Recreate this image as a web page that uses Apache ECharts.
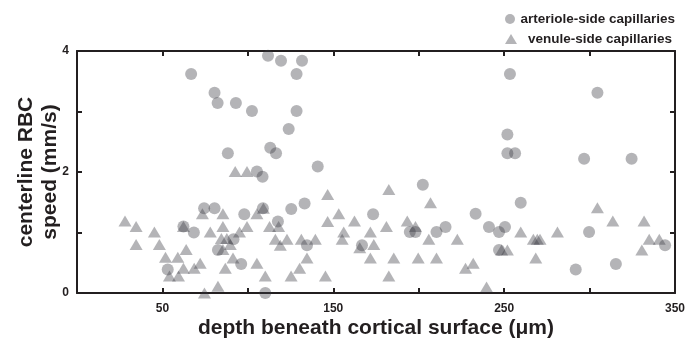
<!DOCTYPE html>
<html>
<head>
<meta charset="utf-8">
<script src="https://cdn.jsdelivr.net/npm/echarts@6/dist/echarts.min.js"></script>
<style>
  html, body { margin: 0; padding: 0; background: #fff; }
  #chart { width: 695px; height: 340px; }
</style>
</head>
<body>
<div id="chart"></div>
<script>
// depth (um), centerline RBC speed (mm/s)
const arteriolePoints = [
  [66.8, 3.62], [80.5, 3.31], [82.3, 3.14], [88.3, 2.31], [74.4, 1.40], [80.5, 1.40],
  [62.3, 1.10], [68.4, 1.00], [82.5, 0.71], [53.1, 0.39],
  [111.8, 3.92], [119.4, 3.84], [131.7, 3.84], [128.5, 3.62], [93.0, 3.14], [102.4, 3.01],
  [128.5, 3.01], [123.9, 2.71], [113.1, 2.40], [116.5, 2.31], [140.9, 2.09], [105.3, 2.01],
  [108.6, 1.92], [97.9, 1.30], [108.8, 1.40], [125.4, 1.39], [133.2, 1.48], [117.6, 1.18],
  [91.6, 0.89], [96.1, 0.48], [134.6, 0.79], [173.3, 1.30], [166.8, 0.79], [110.2, 0.0],
  [253.4, 3.62], [251.9, 2.62], [251.9, 2.31], [256.4, 2.31], [202.4, 1.79], [259.7, 1.49],
  [233.3, 1.31], [194.8, 1.01], [198.1, 1.01], [210.4, 1.01], [215.7, 1.09], [241.1, 1.09],
  [247.0, 1.01], [250.5, 1.09], [247.0, 0.71],
  [304.6, 3.31], [296.8, 2.22], [324.6, 2.22], [299.7, 1.01], [291.9, 0.39], [315.4, 0.48],
  [344.2, 0.79]
]

const venulePoints = [
  [28.1, 1.19], [34.6, 1.10], [34.6, 0.80], [45.3, 1.01], [48.2, 0.80], [51.8, 0.59],
  [59.0, 0.59], [63.9, 0.72], [62.3, 1.10], [54.1, 0.28], [59.4, 0.28], [62.3, 0.41],
  [68.6, 0.41], [72.1, 0.49], [74.6, 0.0], [82.5, 0.11], [73.4, 1.31], [78.0, 1.01],
  [85.4, 1.31], [85.4, 1.10], [84.5, 0.90], [86.8, 0.41], [85.4, 0.72],
  [92.6, 2.01], [99.5, 2.01], [146.7, 1.63], [109.1, 1.40], [105.3, 1.31], [153.2, 1.31],
  [146.7, 1.18], [162.4, 1.19], [99.5, 1.10], [95.1, 1.01], [112.7, 1.10], [118.0, 1.10],
  [156.1, 1.01], [171.7, 1.01], [87.7, 0.90], [89.7, 0.80], [116.1, 0.89], [122.9, 0.89],
  [119.0, 0.79], [131.3, 0.89], [139.5, 0.89], [155.2, 0.89], [165.5, 0.75], [173.7, 0.80],
  [171.7, 0.58], [134.6, 0.58], [130.3, 0.41], [105.3, 0.49], [91.3, 0.58], [110.2, 0.28],
  [125.3, 0.28], [145.4, 0.28],
  [182.5, 1.71], [206.9, 1.49], [193.3, 1.19], [198.1, 1.10], [181.1, 1.10], [205.9, 0.89],
  [222.6, 0.89], [259.7, 1.01], [185.4, 0.58], [199.7, 0.58], [210.4, 0.58], [182.5, 0.28],
  [227.4, 0.41], [231.9, 0.49], [239.7, 0.10], [248.5, 0.71], [251.9, 0.71],
  [304.6, 1.41], [313.6, 1.19], [331.9, 1.19], [281.2, 1.01], [267.1, 0.89], [269.4, 0.89],
  [271.0, 0.89], [268.5, 0.58], [334.9, 0.89], [340.8, 0.89], [330.6, 0.71]
]

const xLabels = [50, 150, 250, 350]
const yLabels = [0, 2, 4]

const INK = '#231f20'
const MARK = 'rgba(55,55,65,0.47)'
const FONT = 'Liberation Sans, Arial, sans-serif'

const axisLine = { show: true, onZero: false, lineStyle: { color: INK, width: 2 } }
const axisTick = { show: true, inside: true, length: 5, lineStyle: { color: INK, width: 2 } }
const labelFont = { color: INK, fontSize: 12, fontWeight: 'bold', fontFamily: FONT }
const nameFont = { color: INK, fontSize: 21, fontWeight: 'bold', fontFamily: FONT }
const legendFont = { color: INK, fontSize: 13.5, fontWeight: 'bold', fontFamily: FONT }

const chart = echarts.init(document.getElementById('chart'))

chart.setOption({
  animation: false,
  grid: { left: 77, right: 20, top: 51, bottom: 47, outerBoundsMode: 'none' },
  legend: [
    {
      data: ['arteriole-side capillaries'],
      left: 500, top: 7,
      itemWidth: 11, itemHeight: 10, itemGap: 10,
      textStyle: legendFont
    },
    {
      data: ['venule-side capillaries'],
      left: 500, top: 27,
      itemWidth: 12, itemHeight: 10,
      textStyle: { ...legendFont, padding: [0, 0, 0, 6] }
    }
  ],
  xAxis: [
    {
      type: 'value', position: 'bottom',
      min: 0, max: 350, interval: 50,
      name: 'depth beneath cortical surface (μm)',
      nameLocation: 'middle', nameGap: 25, nameMoveOverlap: false,
      nameTextStyle: nameFont,
      axisLine, axisTick,
      splitLine: { show: false },
      axisLabel: {
        ...labelFont, margin: 10,
        formatter: v => xLabels.includes(v) ? String(v) : ''
      }
    },
    {
      type: 'value', position: 'top',
      min: 0, max: 350, interval: 50,
      axisLine, axisTick,
      splitLine: { show: false },
      axisLabel: { show: false }
    }
  ],
  yAxis: [
    {
      type: 'value', position: 'left',
      min: 0, max: 4, interval: 1,
      name: 'centerline RBC\nspeed (mm/s)',
      nameLocation: 'middle', nameGap: 15, nameMoveOverlap: false,
      nameTextStyle: { ...nameFont, lineHeight: 24 },
      axisLine, axisTick,
      splitLine: { show: false },
      axisLabel: {
        ...labelFont, margin: 8,
        formatter: v => yLabels.includes(v) ? String(v) : ''
      }
    },
    {
      type: 'value', position: 'right',
      min: 0, max: 4, interval: 1,
      axisLine, axisTick,
      splitLine: { show: false },
      axisLabel: { show: false }
    }
  ],
  series: [
    {
      name: 'arteriole-side capillaries',
      type: 'scatter',
      symbol: 'circle',
      symbolSize: 12,
      itemStyle: { color: MARK },
      data: arteriolePoints
    },
    {
      name: 'venule-side capillaries',
      type: 'scatter',
      symbol: 'triangle',
      symbolSize: [13, 11],
      itemStyle: { color: MARK },
      data: venulePoints
    }
  ]
})
</script>
</body>
</html>
